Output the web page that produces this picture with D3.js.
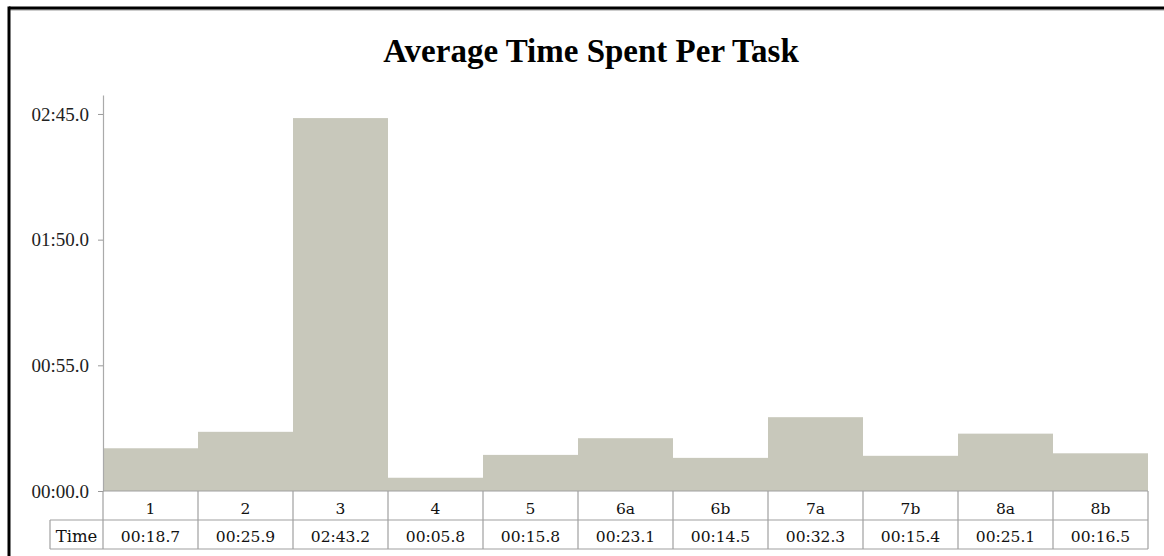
<!DOCTYPE html>
<html>
<head>
<meta charset="utf-8">
<script src="https://cdn.jsdelivr.net/npm/d3@7/dist/d3.min.js"></script>
<style>
  html, body { margin: 0; padding: 0; background: #fff; }
  svg { display: block; }
</style>
</head>
<body>
<svg id="chart" width="1164" height="556"></svg>
<script>
// Task labels and average time per task (seconds)
const tasks = ["1", "2", "3", "4", "5", "6a", "6b", "7a", "7b", "8a", "8b"];
const seconds = [18.7, 25.9, 163.2, 5.8, 15.8, 23.1, 14.5, 32.3, 15.4, 25.1, 16.5];
const yTicks = [0, 55, 110, 165];
const rowLabel = "Time";
const title = "Average Time Spent Per Task";

// mm:ss.s formatting
function fmt(s) {
  const m = Math.floor(s / 60);
  const r = s - m * 60;
  const ss = r.toFixed(1).padStart(4, "0");
  return String(m).padStart(2, "0") + ":" + ss;
}

const svg = d3.select("#chart");
const W = 1164, H = 556;
const left = 103, right = 1148, zeroY = 491;

// frame
svg.append("line").attr("x1", 9).attr("x2", W).attr("y1", 10).attr("y2", 10)
  .attr("stroke", "#999").attr("stroke-width", 1);
svg.append("line").attr("x1", 9).attr("x2", W).attr("y1", 8).attr("y2", 8)
  .attr("stroke", "#000").attr("stroke-width", 3);
svg.append("line").attr("x1", 9).attr("x2", 9).attr("y1", 6.5).attr("y2", H)
  .attr("stroke", "#000").attr("stroke-width", 3);

svg.append("text")
  .attr("x", 591).attr("y", 62)
  .attr("text-anchor", "middle")
  .attr("font-family", "Liberation Serif, Times New Roman, serif")
  .attr("font-weight", "bold")
  .attr("font-size", 33)
  .attr("fill", "#000")
  .text(title);

const x = d3.scaleBand().domain(tasks).range([left, right]).padding(0);
const y = d3.scaleLinear().domain([0, 173.3]).range([zeroY, 95]);

// bars
svg.append("g").selectAll("rect")
  .data(tasks.map((t, i) => ({ t, v: seconds[i] })))
  .join("rect")
  .attr("x", d => x(d.t))
  .attr("y", d => y(d.v))
  .attr("width", x.bandwidth())
  .attr("height", d => zeroY - y(d.v))
  .attr("fill", "#c8c8bb");

// y axis
const yAxis = d3.axisLeft(y)
  .tickValues(yTicks)
  .tickFormat(fmt)
  .tickSize(5)
  .tickSizeOuter(0);
const ya = svg.append("g").attr("transform", `translate(${left},0)`).call(yAxis);
ya.select(".domain").attr("stroke", "#aaa").attr("stroke-width", 1.2);
ya.selectAll(".tick line").attr("stroke", "#999");
ya.selectAll(".tick text")
  .attr("x", -14)
  .attr("font-family", "Liberation Serif, Times New Roman, serif")
  .attr("font-size", 19)
  .attr("fill", "#222");

// data table under the axis
const row1Top = zeroY, row1Bot = 520, row2Bot = 549, labelLeft = 50;
const grid = svg.append("g").attr("stroke", "#a0a0a0").attr("stroke-width", 1.2).attr("fill", "none");
grid.append("line").attr("x1", left).attr("x2", right).attr("y1", row1Top).attr("y2", row1Top);
grid.append("line").attr("x1", labelLeft).attr("x2", right).attr("y1", row1Bot).attr("y2", row1Bot);
grid.append("line").attr("x1", labelLeft).attr("x2", right).attr("y1", row2Bot).attr("y2", row2Bot);
grid.append("line").attr("x1", labelLeft).attr("x2", labelLeft).attr("y1", row1Bot).attr("y2", row2Bot);
grid.selectAll("line.col")
  .data(tasks.concat(["__end"]))
  .join("line")
  .attr("class", "col")
  .attr("x1", d => d === "__end" ? right : x(d))
  .attr("x2", d => d === "__end" ? right : x(d))
  .attr("y1", row1Top)
  .attr("y2", row2Bot);

const tableFont = "DejaVu Serif, serif";
svg.append("g").selectAll("text")
  .data(tasks)
  .join("text")
  .attr("x", d => x(d) + x.bandwidth() / 2)
  .attr("y", row1Bot - 6)
  .attr("text-anchor", "middle")
  .attr("font-family", tableFont)
  .attr("font-size", 15.5)
  .attr("fill", "#111")
  .text(d => d);

svg.append("g").selectAll("text")
  .data(tasks.map((t, i) => ({ t, v: seconds[i] })))
  .join("text")
  .attr("x", d => x(d.t) + x.bandwidth() / 2)
  .attr("y", row2Bot - 7)
  .attr("text-anchor", "middle")
  .attr("font-family", tableFont)
  .attr("font-size", 15.5)
  .attr("fill", "#111")
  .text(d => fmt(d.v));

svg.append("text")
  .attr("x", (labelLeft + left) / 2)
  .attr("y", row2Bot - 7)
  .attr("text-anchor", "middle")
  .attr("font-family", tableFont)
  .attr("font-size", 16.5)
  .attr("fill", "#111")
  .text(rowLabel);
</script>
</body>
</html>
